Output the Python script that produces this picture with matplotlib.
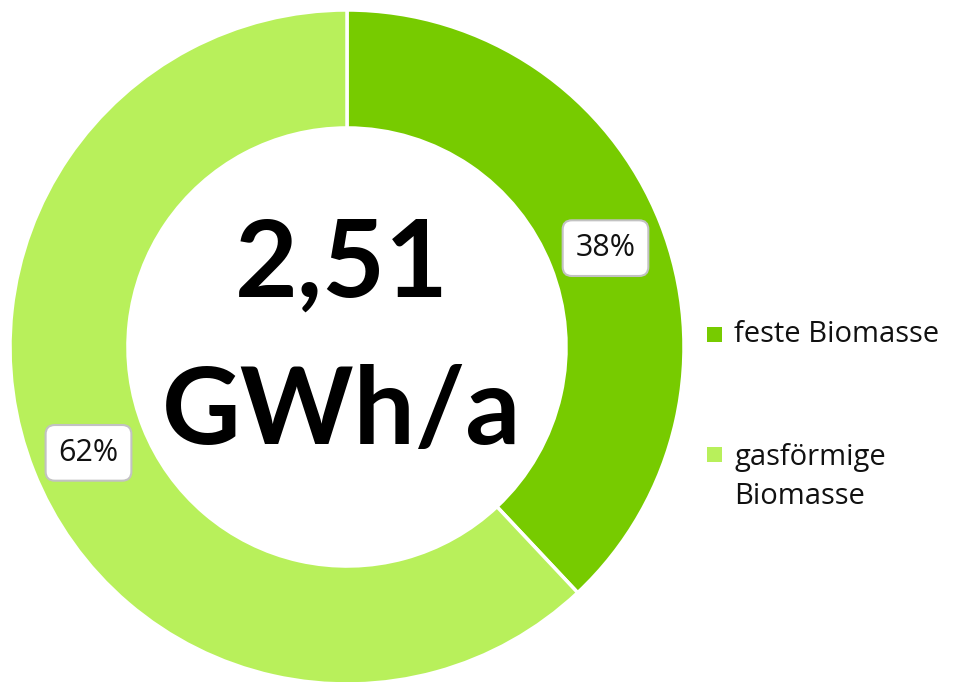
import matplotlib.pyplot as plt
from matplotlib.patches import Rectangle

plt.rcParams['font.family'] = ['Open Sans', 'DejaVu Sans']

categories = ['feste Biomasse', 'gasförmige\nBiomasse']
shares = [38, 62]
colors = ['#77cb00', '#b8f05b']
total_label = '2,51\nGWh/a'

fig = plt.figure(figsize=(9.55, 6.82), dpi=100)
# square axes holding the donut, radius 337 px, centre at (347, 347)
ax = fig.add_axes([10 / 955, -2 / 682, 674 / 955, 674 / 682])

wedges, texts, autotexts = ax.pie(
    shares, colors=colors, startangle=90, counterclock=False, radius=1,
    wedgeprops=dict(width=0.35, edgecolor='white', linewidth=2.5),
    autopct='%d%%', pctdistance=0.825,
    textprops=dict(fontsize=22, color='#111111'))
for t in autotexts:
    t.set_va('center_baseline')
    t.set_bbox(dict(boxstyle='round,pad=0.42,rounding_size=0.3',
                    facecolor='white', edgecolor='#c2c2c2', linewidth=1.5))

ax.text(-0.015, 0.024, total_label, ha='center', va='center',
        fontsize=78, fontweight='bold', linespacing=1.62, family='Lato')
ax.set_xlim(-1, 1)
ax.set_ylim(-1, 1)
ax.set_aspect('equal')
ax.axis('off')

# legend on the right (baseline of first line in px)
legend_base = [342, 462]
line_step = 42
for cat, col, y in zip(categories, colors, legend_base):
    fig.patches.append(Rectangle((707 / 955, 1 - y / 682), 15 / 955, 15 / 682,
                                 transform=fig.transFigure, facecolor=col,
                                 edgecolor='none'))
    # va='baseline' uses the last line, so move down for extra lines
    y_last = y + line_step * cat.count('\n')
    fig.text(734 / 955, 1 - y_last / 682, cat, ha='left', va='baseline',
             fontsize=21, color='#111111', linespacing=1.45)

fig.savefig('out.png', dpi=100)
